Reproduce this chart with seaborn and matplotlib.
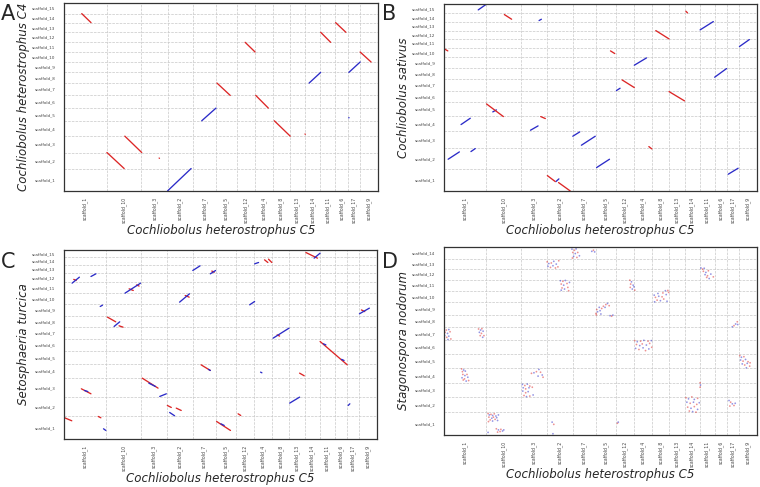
import numpy as np
import pandas as pd
import seaborn as sns
import matplotlib.pyplot as plt

# reference genome on x (C. heterostrophus C5), scaffold order and lengths in Mb
x_names = ['scaffold_1', 'scaffold_10', 'scaffold_3', 'scaffold_2', 'scaffold_7',
           'scaffold_5', 'scaffold_12', 'scaffold_4', 'scaffold_8', 'scaffold_13',
           'scaffold_14', 'scaffold_11', 'scaffold_6', 'scaffold_17', 'scaffold_9']
x_len = [5.16, 4.20, 3.16, 3.08, 2.76, 2.48, 2.20, 2.16, 2.04, 1.88, 1.84, 1.80, 1.52, 1.48, 2.12]

# query genomes on y
a_names = ['scaffold_%d' % i for i in range(1, 16)]
a_len = [4.02, 2.88, 2.94, 2.76, 2.28, 2.28, 2.22, 1.92, 1.86, 1.80, 1.74, 1.80, 1.74, 1.62, 1.92]
b_names = ['scaffold_%d' % i for i in range(1, 16)]
b_len = [4.02, 3.66, 3.12, 2.70, 2.46, 2.04, 2.10, 1.98, 1.98, 1.74, 1.56, 1.50, 1.62, 1.50, 1.68]
c_names = ['scaffold_%d' % i for i in range(1, 16)]
c_len = [4.02, 3.48, 3.42, 2.52, 2.28, 2.22, 2.10, 2.10, 2.16, 1.92, 1.92, 1.68, 1.50, 1.38, 1.32]
d_names = ['scaffold_%d' % i for i in range(1, 15)]
d_len = [4.08, 2.70, 2.64, 2.58, 2.58, 2.52, 2.28, 2.22, 2.28, 2.10, 2.04, 1.98, 1.80, 2.10]

# alignments: (x start, x end, y start, y end, strand) in concatenated Mb
a_segs = [
    (2.16, 3.28, 31.86, 30.24, '-'), (5.20, 7.28, 6.90, 4.02, '-'),
    (7.36, 9.40, 9.84, 6.90, '-'), (12.52, 15.36, 0.00, 4.02, '+'),
    (16.64, 18.36, 12.60, 14.88, '+'), (18.48, 20.08, 19.38, 17.16, '-'),
    (21.88, 23.08, 26.70, 24.96, '-'), (23.16, 24.68, 17.16, 14.88, '-'),
    (25.40, 27.32, 12.60, 9.84, '-'), (29.10, 29.14, 10.22, 10.18, '-'),
    (11.50, 11.54, 5.90, 5.86, '-'), (29.60, 31.00, 19.38, 21.30, '+'),
    (31.00, 32.20, 28.50, 26.70, '-'), (32.80, 34.04, 30.24, 28.50, '-'),
    (34.38, 34.42, 13.12, 13.16, '+'), (34.40, 35.76, 21.30, 23.16, '+'),
    (35.76, 37.08, 24.96, 23.16, '-'),
]
b_segs = [
    (4.16, 5.08, 32.58, 33.54, '+'), (7.32, 8.20, 31.74, 30.90, '-'),
    (11.52, 11.80, 30.66, 30.90, '+'), (29.28, 29.48, 32.34, 32.04, '-'),
    (31.00, 32.60, 28.98, 30.48, '+'), (25.64, 27.24, 28.86, 27.36, '-'),
    (35.76, 36.96, 25.98, 27.24, '+'), (0.00, 0.48, 25.62, 25.20, '-'),
    (20.16, 20.68, 25.20, 24.72, '-'), (23.04, 24.52, 22.62, 23.94, '+'),
    (32.76, 34.20, 20.46, 22.02, '+'), (21.56, 23.04, 19.98, 18.60, '-'),
    (20.88, 21.32, 18.06, 18.48, '+'), (27.24, 29.12, 17.88, 16.20, '-'),
    (5.16, 7.20, 15.66, 13.38, '-'), (5.92, 6.36, 14.22, 14.58, '+'),
    (11.72, 12.28, 13.38, 13.02, '-'), (2.08, 3.20, 11.94, 13.08, '+'),
    (10.48, 11.40, 10.92, 11.70, '+'), (15.60, 16.44, 9.84, 10.62, '+'),
    (16.64, 18.32, 8.22, 9.84, '+'), (24.80, 25.16, 7.98, 7.56, '-'),
    (0.52, 1.88, 5.70, 7.02, '+'), (3.28, 3.80, 7.08, 7.62, '+'),
    (18.48, 20.04, 4.20, 5.70, '+'), (34.40, 35.60, 3.00, 4.08, '+'),
    (12.52, 13.48, 2.76, 1.68, '-'), (13.88, 15.28, 1.50, 0.00, '-'),
    (13.56, 13.92, 1.68, 2.16, '+'),
]
c_segs = [
    (0.00, 0.96, 3.84, 3.24, '-'), (4.16, 4.48, 4.02, 3.78, '-'),
    (4.80, 5.08, 1.80, 1.50, '+'), (1.00, 1.88, 28.02, 29.10, '+'),
    (1.20, 1.50, 28.70, 28.50, '-'), (3.28, 3.88, 29.22, 29.70, '+'),
    (4.40, 4.68, 23.82, 24.06, '+'), (2.12, 3.28, 9.00, 8.10, '-'),
    (2.50, 2.90, 8.70, 8.50, '+'), (7.40, 9.28, 26.22, 28.02, '+'),
    (7.90, 8.40, 27.00, 26.70, '-'), (8.80, 9.10, 27.70, 27.50, '-'),
    (5.28, 6.28, 21.90, 21.06, '-'), (6.08, 6.76, 20.22, 21.06, '+'),
    (6.68, 7.16, 20.34, 20.10, '-'), (9.48, 11.40, 10.92, 9.12, '-'),
    (10.28, 11.08, 10.02, 9.42, '+'), (11.60, 12.40, 7.62, 8.10, '+'),
    (12.52, 13.00, 6.00, 5.64, '-'), (12.80, 13.40, 4.74, 4.14, '+'),
    (13.60, 14.20, 5.52, 5.10, '-'), (14.00, 15.20, 24.60, 26.10, '+'),
    (14.68, 15.16, 25.80, 25.50, '-'), (15.60, 16.48, 30.30, 31.14, '+'),
    (17.72, 18.36, 29.70, 30.30, '+'), (17.90, 18.20, 30.20, 30.00, '-'),
    (16.60, 17.72, 13.32, 12.30, '-'), (17.50, 17.72, 12.50, 12.30, '+'),
    (18.48, 20.16, 3.12, 1.50, '-'), (19.00, 19.40, 2.70, 2.40, '+'),
    (21.08, 21.40, 4.50, 4.20, '-'), (22.48, 23.08, 24.12, 24.72, '+'),
    (23.08, 23.56, 31.50, 31.74, '+'), (24.28, 24.68, 32.22, 31.74, '-'),
    (24.76, 25.16, 32.34, 31.74, '-'), (23.80, 23.96, 12.00, 11.88, '+'),
    (25.32, 27.24, 18.12, 19.92, '+'), (25.80, 26.10, 18.70, 18.50, '-'),
    (28.52, 29.08, 11.82, 11.34, '-'), (27.32, 28.52, 6.42, 7.50, '+'),
    (29.28, 30.68, 33.54, 32.52, '-'), (30.28, 31.00, 32.52, 33.42, '+'),
    (31.00, 34.28, 17.52, 13.32, '-'), (31.40, 31.70, 17.10, 16.90, '+'),
    (33.60, 33.90, 14.30, 14.10, '+'), (34.40, 34.60, 6.00, 6.30, '+'),
    (35.76, 36.96, 22.50, 23.52, '+'), (36.00, 36.40, 23.20, 22.90, '-'),
]

# S. nodorum: scattered short hits (x, y) in Mb
d_x = [5.35, 5.5, 5.7, 5.9, 6.1, 6.3, 5.45, 5.8, 6.0, 6.4, 5.6, 5.9, 6.2, 6.5, 5.4, 6.6,
       6.35, 6.6, 6.9, 7.1, 6.8, 7.25, 6.5, 5.35,
       2.15, 2.4, 2.25, 2.6, 2.3, 2.55, 2.8, 2.2, 2.5, 2.9, 3.0, 2.7, 2.35,
       0.05, 0.3, 0.6, 0.15, 0.45, 0.75, 0.1, 0.35, 0.6, 0.85, 0.5,
       4.2, 4.45, 4.6, 4.3, 4.55, 4.75, 4.4, 4.7, 4.85,
       9.5, 9.8, 10.1, 10.4, 9.6, 9.9, 10.3, 10.7, 9.55, 9.9, 10.2, 9.7, 10.0, 10.4, 10.8,
       10.6, 10.9, 11.2, 11.5, 11.7, 11.9, 12.0, 11.4,
       12.5, 12.7, 13.0, 12.6, 12.9, 13.2, 13.5, 13.6, 13.9, 13.3, 13.8,
       14.1, 14.4, 14.7, 14.2, 14.5, 14.9, 15.2, 14.3, 14.6, 15.0, 14.2, 15.1,
       15.5, 15.8, 16.0, 15.6, 15.9, 16.2, 15.7, 16.1, 16.4, 15.55,
       17.9, 18.1, 18.25,
       18.4, 18.6, 18.5, 18.9, 19.1, 18.8, 19.3, 19.5, 19.6, 19.8, 20.0, 19.0, 18.45,
       20.1, 20.3, 20.45,
       22.5, 22.7, 22.6, 22.9, 22.55, 22.8, 23.1, 23.0,
       23.1, 23.4, 23.8, 24.2, 24.7, 25.1, 23.3, 23.7, 24.0, 24.5, 24.9, 23.2, 23.6, 24.1,
       24.4, 24.8, 25.15,
       25.5, 25.8, 26.2, 26.6, 27.0, 25.6, 26.0, 26.4, 26.9, 27.2, 25.9, 26.5, 26.8, 27.1, 25.45,
       29.3, 29.6, 30.0, 30.3, 30.7, 29.4, 29.8, 30.2, 30.6, 30.9, 29.5, 29.9, 30.3, 30.7,
       29.7, 30.1, 30.5,
       31.1, 31.3, 31.5, 31.4, 31.7, 32.0, 31.6, 31.9, 32.3, 32.6, 32.1, 31.8,
       34.5, 34.7, 34.9, 35.1, 35.25, 34.6,
       34.9, 35.1, 35.3, 35.5, 35.55,
       35.8, 36.0, 36.3, 35.9, 36.2, 36.5, 36.8, 36.1, 36.4, 36.7, 37.0, 36.6, 37.05,
       13.1, 13.3, 13.2, 21.0, 21.1, 31.0, 31.05, 31.0]
d_y = [3.85, 3.6, 3.7, 3.5, 3.8, 3.4, 3.2, 3.0, 3.2, 3.1, 2.7, 2.5, 2.8, 2.6, 2.4, 3.6,
       1.1, 0.9, 1.0, 0.7, 0.6, 0.9, 0.5, 0.45,
       11.9, 11.7, 11.4, 11.5, 10.9, 10.7, 10.9, 10.3, 10.1, 10.4, 9.8, 9.7, 9.9,
       19.1, 18.9, 19.0, 18.5, 18.3, 18.6, 17.9, 17.6, 17.8, 17.3, 17.2,
       19.1, 18.9, 19.15, 18.5, 18.3, 18.7, 17.9, 17.6, 17.9,
       9.1, 8.9, 9.15, 8.8, 8.5, 8.3, 8.5, 8.6, 7.9, 7.6, 7.8, 7.1, 6.9, 7.0, 7.2,
       11.1, 11.2, 11.4, 11.8, 11.3, 10.8, 10.4, 10.6,
       31.2, 30.9, 31.0, 30.4, 30.2, 30.5, 30.1, 30.8, 31.4, 31.3, 30.3,
       27.8, 27.7, 27.85, 27.2, 27.0, 27.3, 27.5, 26.5, 26.3, 26.6, 26.1, 26.0,
       33.5, 33.3, 33.55, 32.9, 32.7, 32.9, 32.2, 32.0, 32.3, 31.9,
       33.1, 33.3, 33.0,
       21.9, 22.2, 22.6, 22.4, 22.8, 23.0, 23.2, 23.0, 23.5, 23.7, 23.3, 21.8, 21.65,
       21.5, 21.4, 21.6,
       27.9, 27.6, 27.2, 27.0, 26.6, 26.3, 26.1, 26.7,
       17.0, 16.8, 16.9, 17.05, 16.9, 17.0, 16.3, 16.1, 16.4, 16.2, 16.5, 15.6, 15.4, 15.7,
       15.2, 15.5, 15.8,
       24.0, 24.3, 24.2, 24.5, 24.1, 24.8, 25.0, 24.9, 25.3, 25.7, 25.5, 25.6, 26.0, 26.05, 25.2,
       6.7, 6.5, 6.85, 6.4, 6.6, 5.9, 5.7, 5.9, 5.5, 5.8, 5.0, 4.8, 5.1, 4.6,
       4.3, 4.2, 4.1,
       30.1, 29.9, 30.05, 29.5, 29.3, 29.6, 28.9, 28.7, 29.0, 28.5, 28.2, 28.4,
       6.2, 5.9, 5.6, 5.3, 5.7, 5.2,
       19.5, 19.7, 20.0, 20.4, 19.9,
       14.3, 14.0, 14.1, 13.5, 13.3, 13.6, 13.2, 12.8, 12.6, 12.9, 12.4, 12.1, 13.0,
       2.3, 1.9, 0.2, 2.1, 2.3, 9.4, 9.0, 8.6]

RED = '#dc2626'
BLUE = '#2b2bc8'


def draw_panel(ax, y_names, y_len, segs, ylabel, dots=None):
    xb = np.concatenate([[0], np.cumsum(x_len)])
    yb = np.concatenate([[0], np.cumsum(y_len)])

    if segs:
        rows = []
        for i, (x0, x1, y0, y1, s) in enumerate(segs):
            rows.append({'seg': i, 'x': x0, 'y': y0, 'strand': s})
            rows.append({'seg': i, 'x': x1, 'y': y1, 'strand': s})
        df = pd.DataFrame(rows)
        sns.lineplot(data=df, x='x', y='y', hue='strand', units='seg', estimator=None,
                     sort=False, palette={'+': BLUE, '-': RED}, lw=0.95,
                     legend=False, ax=ax)
    if dots is not None:
        dx, dy = dots
        dd = pd.DataFrame({'x': dx, 'y': dy,
                           'strand': ['+' if i % 2 else '-' for i in range(len(dx))]})
        sns.scatterplot(data=dd, x='x', y='y', hue='strand',
                        palette={'+': BLUE, '-': RED}, s=1.6, linewidth=0,
                        alpha=0.5, legend=False, ax=ax)

    ax.set_xlim(0, xb[-1])
    ax.set_ylim(0, yb[-1])
    ax.set_xticks((xb[:-1] + xb[1:]) / 2)
    ax.set_xticklabels(x_names, rotation=90, fontsize=3.3, color='#444444')
    ax.set_yticks((yb[:-1] + yb[1:]) / 2)
    ax.set_yticklabels(y_names, fontsize=3, color='#444444')
    ax.set_xticks(xb[1:-1], minor=True)
    ax.set_yticks(yb[1:-1], minor=True)
    ax.tick_params(axis='x', which='major', length=0, pad=4.5)
    ax.tick_params(axis='y', which='major', length=0, pad=6)
    ax.tick_params(which='minor', length=2, width=0.5, color='#888888')
    ax.grid(False, which='major')
    ax.grid(True, which='minor', ls='--', lw=0.5, color='#c8c8c8')
    for sp in ax.spines.values():
        sp.set_color('#333333')
        sp.set_linewidth(0.9)
    ax.set_xlabel('Cochliobolus heterostrophus C5', fontsize=8.5, style='italic', labelpad=0.5)
    ax.set_ylabel(ylabel, fontsize=8.5, style='italic', labelpad=1.5)


sns.set_style('white')
fig = plt.figure(figsize=(7.6, 4.87), dpi=100)
ax_a = fig.add_axes([0.084, 0.608, 0.413, 0.386])
ax_b = fig.add_axes([0.584, 0.608, 0.412, 0.384])
ax_c = fig.add_axes([0.084, 0.099, 0.412, 0.388])
ax_d = fig.add_axes([0.584, 0.107, 0.412, 0.386])

draw_panel(ax_a, a_names, a_len, a_segs, 'Cochliobolus heterostrophus C4')
draw_panel(ax_b, b_names, b_len, b_segs, 'Cochliobolus sativus')
draw_panel(ax_c, c_names, c_len, c_segs, 'Setosphaeria turcica')
draw_panel(ax_d, d_names, d_len, None, 'Stagonospora nodorum', dots=(d_x, d_y))

for lab, fx, fy in [('A', 0.001, 0.992), ('B', 0.502, 0.992),
                    ('C', 0.001, 0.483), ('D', 0.502, 0.483)]:
    fig.text(fx, fy, lab, fontsize=15, va='top', ha='left')

fig.savefig('out.png', dpi=100)
